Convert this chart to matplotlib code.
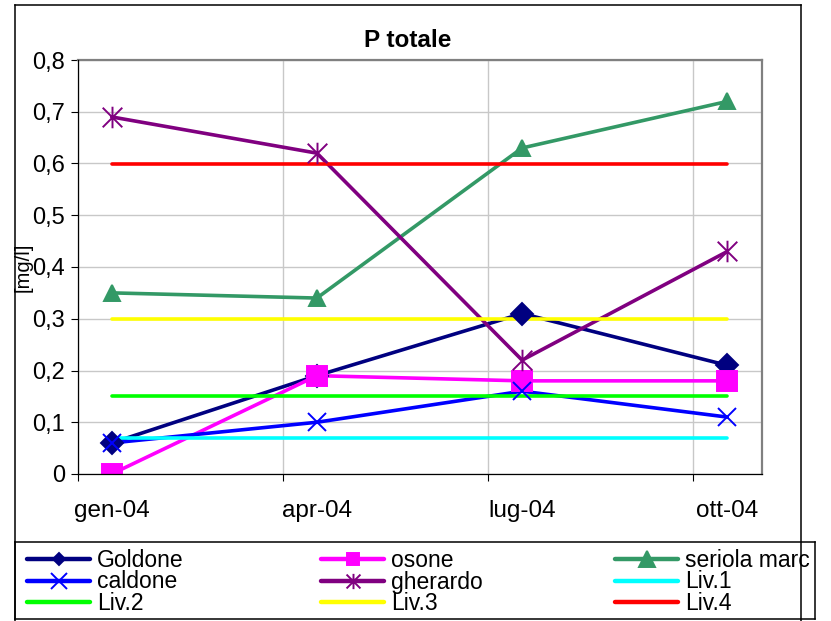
import matplotlib
matplotlib.use("Agg")
import matplotlib.pyplot as plt
from matplotlib.lines import Line2D
from matplotlib.path import Path
import numpy as np

plt.rcParams['font.family'] = ['Liberation Sans', 'DejaVu Sans']

# ---- data ----
categories = ["gen-04", "apr-04", "lug-04", "ott-04"]
month_index = [0, 3, 6, 9]          # months from Jan 2004 (date axis)

series_names = ["Goldone", "osone", "seriola marc", "caldone", "gherardo",
                "Liv.1", "Liv.2", "Liv.3", "Liv.4"]
goldone = [0.06, 0.19, 0.31, 0.21]
osone = [0.00, 0.19, 0.18, 0.18]
seriola = [0.35, 0.34, 0.63, 0.72]
caldone = [0.06, 0.10, 0.16, 0.11]
gherardo = [0.69, 0.62, 0.22, 0.43]
liv1 = [0.07, 0.07, 0.07, 0.07]
liv2 = [0.15, 0.15, 0.15, 0.15]
liv3 = [0.30, 0.30, 0.30, 0.30]
liv4 = [0.60, 0.60, 0.60, 0.60]
values = [goldone, osone, seriola, caldone, gherardo, liv1, liv2, liv3, liv4]

colors = ["#000080", "#FF00FF", "#339966", "#0000FF", "#800080",
          "#00FFFF", "#00FF00", "#FFFF00", "#FF0000"]

star = Path([(-0.5, -0.5), (0.5, 0.5), (-0.5, 0.5), (0.5, -0.5), (0, -0.55), (0, 0.55)],
            [Path.MOVETO, Path.LINETO, Path.MOVETO, Path.LINETO, Path.MOVETO, Path.LINETO])
markers = ["D", "s", "^", "x", star, None, None, None, None]
msizes = [11.5, 15, 12, 12.5, 15.5, 0, 0, 0, 0]
leg_msizes = [6.5, 9, 11, 11, 11, 0, 0, 0, 0]

W, H = 831, 621
fig = plt.figure(figsize=(W / 100, H / 100), dpi=100)
fig.patch.set_facecolor("white")

def fx(px):
    return px / W

def fy(py):
    return 1 - py / H

# plot area
L, R, T, B = 77.5, 761.5, 60, 474
ax = fig.add_axes([fx(L), fy(B), (R - L) / W, (B - T) / H])

xpos = np.array(month_index) + 0.5   # centre of each month slot
for i, (name, vals) in enumerate(zip(series_names, values)):
    ax.plot(xpos, vals, color=colors[i], lw=2.6, zorder=3, solid_capstyle='round')
for i, (name, vals) in enumerate(zip(series_names, values)):
    if markers[i] is not None:
        ax.plot(xpos, vals, ls='none', marker=markers[i], ms=msizes[i],
                color=colors[i], mec=colors[i], mew=1.4, zorder=4)

ax.set_xlim(0, 10)
ax.set_ylim(0, 0.8)
ax.set_yticks(np.arange(0, 0.81, 0.1))
ax.set_yticklabels([("%.1f" % v).replace(".", ",") if v > 0 else "0"
                    for v in np.arange(0, 0.81, 0.1)])
ax.set_xticks(month_index)
ax.set_xticklabels([])
ax.set_xticks(xpos, minor=True)
ax.set_xticklabels(categories, minor=True)
ax.tick_params(axis='x', which='minor', length=0, pad=19, labelsize=17.5)
ax.tick_params(axis='x', which='major', length=5, width=0.8, direction='out')
ax.tick_params(axis='y', length=5, width=0.8, direction='out', pad=4, labelsize=17)

ax.grid(True, which='major', color="#c8c8c8", lw=1.0, zorder=0)
ax.set_axisbelow(True)
for s in ("top", "right"):
    ax.spines[s].set_color("#808080")
    ax.spines[s].set_linewidth(1.6)
for s in ("left", "bottom"):
    ax.spines[s].set_color("black")
    ax.spines[s].set_linewidth(0.9)
    ax.spines[s].set_zorder(5)

# title and y label
fig.text(fx(408), fy(46.7), "P totale", ha='center', va='baseline',
         fontsize=17.5, fontweight='bold')
fig.text(fx(23), fy(267), "[mg/l]", rotation=90, ha='center', va='center', fontsize=14.5)

# outer chart border
for xs, ys in (([15, 15], [4.5, 640]), ([801, 801], [4.5, 640]), ([15, 801], [4.5, 4.5])):
    fig.add_artist(Line2D([fx(x) for x in xs], [fy(y) for y in ys],
                          transform=fig.transFigure, color='black', lw=1.1))

# legend box (clipped on the right like the original)
lx0, lx1, ly0, ly1 = 15, 815, 542, 619
lax = fig.add_axes([fx(lx0), fy(ly1), (lx1 - lx0) / W, (ly1 - ly0) / H])
lax.set_xlim(lx0, lx1)
lax.set_ylim(ly1, ly0)
lax.set_xticks([])
lax.set_yticks([])
lax.patch.set_alpha(0)
for s in lax.spines.values():
    s.set_color('black')
    s.set_linewidth(1.1)

for i, name in enumerate(series_names):
    col, row = i % 3, i // 3
    x0 = 27 + 294 * col
    yrow = 559 + 21.5 * row
    lax.plot([x0, x0 + 63], [yrow, yrow], color=colors[i], lw=3.2, clip_on=True,
             solid_capstyle='round')
    if markers[i] is not None:
        lax.plot([x0 + 31.5], [yrow], ls='none', marker=markers[i], ms=leg_msizes[i],
                 color=colors[i], mec=colors[i], mew=1.4)
    lax.text(x0 + 70, yrow + 8, name, fontsize=16.5, va='baseline', ha='left', clip_on=True)

fig.savefig("out.png", dpi=100)
